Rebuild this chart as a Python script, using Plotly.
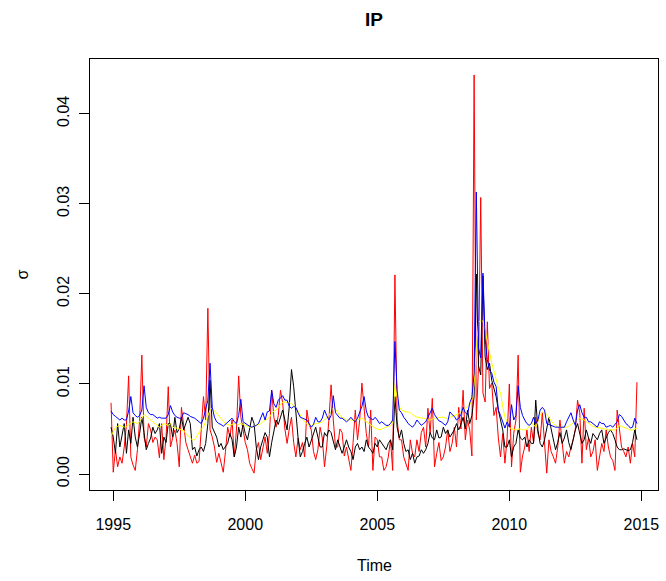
import numpy as np
import plotly.graph_objects as go

# monthly series, values in units of 1e-3
red_vals = [
    7.9,0.2,2.7,0.8,1.9,1.2,3.0,5.5,10.9,1.9,1.0,0.4,
    2.7,6.0,13.2,4.1,3.0,5.6,4.9,3.5,4.1,3.8,1.8,5.6,
    1.6,4.0,9.7,3.0,4.0,4.9,3.4,0.8,7.4,5.6,3.5,2.7,
    1.8,1.2,2.1,1.2,1.4,5.0,8.6,6.0,18.4,4.9,4.1,3.0,
    1.3,2.3,1.2,0.2,2.5,5.2,4.1,6.0,1.9,5.0,10.9,6.3,
    4.9,3.5,2.7,1.2,0.6,0.1,2.7,3.5,1.6,2.8,4.1,2.3,
    4.5,9.3,6.3,5.2,6.5,9.3,7.9,5.0,3.4,5.0,6.3,3.5,
    1.9,4.0,2.7,3.5,1.9,7.1,5.5,4.9,2.5,1.6,2.7,5.2,
    4.0,0.8,3.0,6.0,9.9,6.0,3.0,3.0,5.0,4.6,2.0,3.0,
    1.5,0.4,3.5,7.1,3.8,6.0,10.1,6.8,4.5,3.0,7.1,0.4,
    4.1,3.8,1.9,1.9,0.4,0.8,1.9,3.8,0.4,22.1,6.0,3.8,
    3.8,1.9,1.2,0.4,3.8,2.3,1.9,3.8,2.5,4.6,5.2,3.0,
    7.3,4.5,8.4,0.8,2.3,3.5,1.5,1.9,3.0,4.9,2.5,3.4,
    5.2,3.0,7.4,5.0,9.3,3.8,6.0,4.9,2.0,44.3,6.0,12.0,
    30.7,9.0,8.0,16.9,9.5,10.1,6.5,7.4,4.0,1.9,4.5,1.2,
    4.0,10.0,0.8,4.5,6.0,13.2,0.2,2.0,3.0,4.9,2.5,5.2,
    3.5,6.3,4.5,3.8,6.8,3.0,0.1,3.8,2.5,1.9,1.2,3.0,
    6.0,3.5,1.2,2.5,1.9,3.0,3.8,5.0,8.2,6.8,1.2,7.3,
    2.7,4.0,1.9,2.5,3.8,0.4,2.0,3.4,2.5,4.9,3.0,1.9,
    1.5,0.4,7.1,4.9,3.0,2.5,1.9,3.0,1.2,3.4,1.9,10.2,
]
black_vals = [
    5.2,4.1,2.3,5.6,3.0,4.5,5.6,2.3,4.9,3.4,6.3,4.1,
    3.0,4.5,6.3,4.6,2.7,3.4,4.0,5.2,4.5,4.9,5.6,2.3,
    4.1,3.5,5.6,5.6,4.1,6.3,4.6,5.0,6.3,4.9,5.5,6.3,
    5.6,2.7,3.0,2.0,2.7,3.0,2.5,3.4,5.6,10.4,5.2,4.6,
    4.1,3.0,3.4,2.7,3.0,3.4,4.5,3.8,1.9,3.0,5.2,4.1,
    5.6,4.5,3.8,5.0,6.3,5.6,3.0,1.6,3.0,3.8,4.6,4.1,
    1.9,3.5,4.9,6.0,5.5,6.3,7.1,6.0,4.9,7.5,11.6,9.7,
    6.3,4.0,1.9,2.5,3.4,4.1,3.0,3.8,4.5,5.2,4.1,3.0,
    3.0,4.6,4.2,4.9,4.6,3.5,2.7,3.8,3.0,2.3,3.0,3.8,
    3.0,2.5,1.6,3.0,3.4,2.7,3.0,2.5,3.8,3.0,2.7,2.3,
    3.4,3.0,3.8,3.4,3.0,2.7,3.4,3.8,2.7,8.6,5.2,4.0,
    4.9,3.4,2.5,2.7,1.6,2.3,1.2,1.9,2.0,2.7,2.3,2.7,
    3.4,4.6,4.0,3.8,4.9,4.0,4.1,5.2,4.5,4.9,4.1,4.5,
    4.9,5.6,4.9,5.5,6.3,5.0,7.1,5.6,6.5,8.6,22.2,12.0,
    11.0,22.0,13.0,11.6,12.3,10.4,9.5,8.6,7.1,6.0,4.9,3.0,
    3.0,3.8,1.9,3.0,3.4,4.9,4.0,3.8,4.1,3.0,3.8,3.4,
    3.4,8.2,4.9,3.4,3.0,3.8,5.2,6.3,5.0,3.8,2.7,3.5,
    4.6,3.4,4.0,4.9,3.5,2.7,4.0,4.9,5.6,4.5,3.4,3.8,
    4.9,4.0,3.4,4.5,4.1,3.8,4.5,4.9,3.4,4.0,4.6,4.9,
    4.5,3.8,3.0,2.7,2.7,2.8,2.7,2.6,2.7,3.5,4.9,3.8,
]
blue_vals = [
    7.0,6.6,6.4,6.2,6.0,6.2,6.0,6.0,7.0,8.6,6.8,6.5,
    6.3,6.5,7.1,9.8,7.4,6.8,6.6,6.6,6.4,6.2,6.3,6.2,
    6.2,6.2,6.6,7.6,6.9,6.5,6.3,6.2,6.2,6.8,6.7,6.6,
    6.4,6.3,6.2,6.0,5.8,5.6,6.2,7.1,8.2,12.3,7.4,6.3,
    5.8,5.6,5.5,5.3,5.5,5.8,6.0,6.2,5.8,5.6,6.5,8.3,
    5.8,5.6,5.4,5.3,5.2,5.3,5.4,5.6,6.2,6.8,6.0,6.9,
    7.0,9.3,7.8,7.4,8.2,8.4,8.7,8.2,8.2,7.5,7.3,7.5,
    7.4,6.8,6.3,6.2,6.1,6.0,5.6,5.2,5.5,6.3,5.8,5.8,
    6.2,7.1,6.5,6.0,6.5,8.7,6.8,6.5,6.2,6.2,6.0,5.8,
    6.0,6.3,6.0,5.8,6.2,6.8,7.5,8.6,7.0,6.3,6.2,6.0,
    6.3,6.0,5.6,5.8,5.6,5.4,5.4,5.6,6.0,14.7,9.3,7.1,
    6.8,6.3,6.0,5.6,5.4,5.2,5.5,6.0,5.7,5.4,5.6,5.8,
    6.3,6.8,7.3,6.6,6.3,5.9,5.8,5.6,5.4,5.8,6.9,6.6,
    6.4,6.0,6.2,6.6,7.4,6.8,6.6,7.9,8.5,11.2,31.3,14.0,
    12.9,22.3,15.0,12.7,11.5,11.2,10.2,9.7,7.1,6.5,5.7,5.1,
    5.8,5.2,7.7,6.0,6.5,9.8,7.4,6.5,6.0,5.6,5.4,5.6,
    6.3,5.6,6.0,7.1,7.4,7.1,5.6,5.5,5.4,5.3,5.2,5.2,
    5.2,5.2,5.2,5.8,6.3,6.8,6.0,5.4,7.1,7.7,6.8,6.3,
    6.3,5.8,5.8,5.6,5.4,5.2,5.8,5.6,5.6,5.2,5.3,5.4,
    5.2,5.5,5.8,6.6,6.4,6.0,5.6,5.4,5.1,5.2,6.2,5.6,
]
yellow_vals = [
    4.2,4.8,5.2,5.3,5.4,5.3,5.2,5.3,5.5,5.6,5.8,5.7,
    5.6,5.8,6.2,6.6,6.4,6.2,6.0,5.8,5.6,5.4,5.2,5.4,
    5.6,5.5,5.4,5.6,5.2,5.1,5.1,5.0,4.9,4.8,4.5,4.2,
    4.0,3.8,3.8,4.2,4.6,5.0,5.2,5.8,6.3,7.1,7.3,7.0,
    6.8,6.5,6.1,5.8,5.6,5.5,5.4,5.5,5.6,5.6,5.5,5.6,
    5.5,5.4,5.3,5.2,5.2,5.3,5.4,5.5,5.6,5.8,6.0,6.2,
    6.3,6.7,7.0,7.1,7.4,7.8,8.0,8.0,7.9,7.9,7.8,7.6,
    7.4,7.0,6.5,6.1,5.8,5.6,5.4,5.4,5.5,5.6,5.6,5.7,
    5.8,6.0,6.2,6.5,6.9,7.4,7.2,6.8,6.5,6.3,6.1,6.0,
    6.0,6.0,6.0,6.0,6.0,6.1,6.2,6.0,5.8,5.6,5.4,5.2,
    5.1,5.0,4.9,5.0,5.1,5.2,5.3,5.4,5.6,10.1,8.5,7.5,
    7.1,7.0,6.9,6.9,6.8,6.6,6.4,6.3,6.3,6.2,6.2,6.1,
    6.0,6.0,6.1,6.2,6.2,6.3,6.3,6.3,6.2,6.2,6.3,6.4,
    6.5,6.6,6.7,6.9,7.1,7.2,7.4,7.7,8.2,10.0,14.0,16.9,
    17.0,17.0,16.0,14.9,13.5,12.3,11.5,10.5,9.5,9.0,7.5,6.3,
    5.8,5.2,5.0,5.0,4.9,5.0,5.0,4.9,4.9,5.0,5.3,5.6,
    5.5,5.2,5.8,6.5,6.9,6.8,6.6,6.2,5.9,5.6,5.4,5.2,
    5.2,5.2,5.2,5.2,5.3,5.5,5.6,5.8,6.0,6.2,6.1,6.0,
    5.8,5.6,5.4,5.3,5.2,5.2,5.1,5.1,5.0,5.0,4.9,4.9,
    4.9,4.9,5.1,5.4,5.3,5.2,5.1,5.0,4.9,4.9,5.0,5.1,
]

start_time = 1994 + 11 / 12.0
x_ticks = [1995, 2000, 2005, 2010, 2015]
y_ticks = [0.00, 0.01, 0.02, 0.03, 0.04]
y_tick_text = ["0.00", "0.01", "0.02", "0.03", "0.04"]

t = start_time + np.arange(len(red_vals)) / 12.0
scale = 1e-3

series = [
    ("red", red_vals, "#ff0000"),
    ("black", black_vals, "#000000"),
    ("yellow", yellow_vals, "#ffff00"),
    ("blue", blue_vals, "#0000ff"),
]

fig = go.Figure()
for name, vals, col in series:
    fig.add_trace(go.Scatter(x=t, y=np.array(vals) * scale, mode="lines",
                             line=dict(color=col, width=1), name=name,
                             showlegend=False, hoverinfo="skip"))

# R-style 4% axis extension
allv = np.concatenate([np.array(v) for _, v, _ in series]) * scale
ymin, ymax = 0.0, allv.max()
yext = 0.04 * (ymax - ymin)
xmin, xmax = t[0], t[-1]
xext = 0.04 * (xmax - xmin)

font = "Liberation Sans, Arial, Helvetica, sans-serif"

fig.update_layout(
    width=666, height=581,
    margin=dict(l=90, r=8, t=59, b=91),
    paper_bgcolor="white", plot_bgcolor="white",
    font=dict(family=font, size=16, color="black"),
    title=dict(text="<b>IP</b>", x=0.5, xref="paper", y=1 - 19 / 581,
               yref="container", xanchor="center", yanchor="middle",
               font=dict(size=19, family=font, color="black")),
    xaxis=dict(range=[xmin - xext, xmax + xext], tickmode="array",
               tickvals=x_ticks, ticktext=[str(v) for v in x_ticks],
               ticks="outside", ticklen=10, tickwidth=1, tickcolor="black",
               showgrid=False, zeroline=False, showline=True, linecolor="black",
               linewidth=1, mirror=True, ticklabelstandoff=10,
               tickfont=dict(size=16)),
    yaxis=dict(range=[ymin - yext, ymax + yext], tickmode="array",
               tickvals=y_ticks, ticktext=y_tick_text, tickangle=-90,
               ticks="outside", ticklen=10, tickwidth=1, tickcolor="black",
               showgrid=False, zeroline=False, showline=True, linecolor="black",
               linewidth=1, mirror=True, ticklabelstandoff=4,
               tickfont=dict(size=16)),
    annotations=[
        dict(text="Time", xref="paper", yref="paper", x=0.5, y=-(565 - 490) / 431,
             xanchor="center", yanchor="middle", showarrow=False,
             font=dict(size=16)),
        dict(text="σ", xref="paper", yref="paper", x=-(90 - 22) / 568, y=0.5,
             xanchor="center", yanchor="middle", showarrow=False, textangle=-90,
             font=dict(size=16)),
    ],
)

fig.write_html("out.html")
